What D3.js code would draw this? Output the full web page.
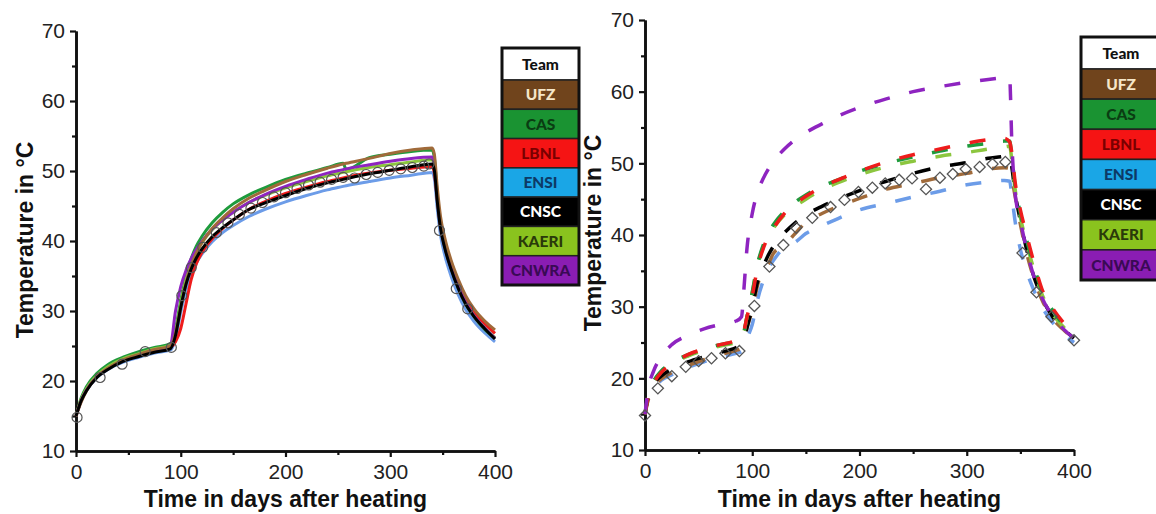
<!DOCTYPE html>
<html>
<head>
<meta charset="utf-8">
<script src="https://cdn.jsdelivr.net/npm/d3@7"></script>
<style>
  body { margin: 0; background: #fff; }
  svg { display: block; }
  .tick text { font-family: "Liberation Sans", Arial, sans-serif; font-size: 21px; fill: #222; }
  .title { font-family: "Liberation Sans", Arial, sans-serif; font-size: 23px; font-weight: bold; fill: #111; }
  .leg { font-family: Lato, "Open Sans", sans-serif; font-size: 15.5px; font-weight: 900; }
</style>
</head>
<body>
<div id="chart"></div>
<script>
// teams and colours
const teams = ["UFZ", "CAS", "LBNL", "ENSI", "CNSC", "KAERI", "CNWRA"];
const lineColors = ["#a06a3a", "#1e9b3c", "#ee1c1c", "#6c9ce8", "#000000", "#8cc63f", "#8e24c0"];
const legendFill = ["#70441c", "#1a9332", "#f51414", "#1aa6e6", "#000000", "#8ac31e", "#8a1db3"];
const legendText = ["#f5e6c8", "#0a3d12", "#7a0000", "#0d3a66", "#ffffff", "#2a3a0a", "#3a0a55"];

const xTicks = [0, 100, 200, 300, 400];
const xMinor = [50, 150, 250, 350];
const yTicks = [10, 20, 30, 40, 50, 60, 70];
const yMinor = [15, 25, 35, 45, 55, 65];

// left panel (solid lines, circles = measured)
const leftDays = [0,5,10,20,30,45,60,75,90,95,100,105,110,115,120,130,140,150,165,180,200,220,240,255,258,280,300,320,340,342,345,348,352,358,365,372,380,390,400];
const leftUFZ   = [15,17.0,18.6,20.6,21.8,23.0,23.8,24.5,25.0,26.8,30.5,34.0,36.5,38.3,39.7,41.8,43.3,44.6,46.1,47.2,48.5,49.5,50.4,51.0,51.1,51.8,52.5,53.0,53.3,52.5,47.5,43.5,40.5,37.3,34.5,32.2,30.3,28.6,27.3];
const leftCAS   = [15,17.6,19.2,21.1,22.3,23.4,24.2,24.8,25.3,27.5,31.5,35.0,37.5,39.3,40.6,42.6,44.1,45.3,46.6,47.6,48.8,49.7,50.5,51.1,50.2,51.9,52.4,52.8,53.0,52.0,46.5,42.3,39.3,36.2,33.3,31.0,29.2,27.4,26.1];
const leftLBNL  = [15,17.3,18.8,20.7,21.8,23.0,23.7,24.3,24.8,25.6,27.5,31.0,34.5,36.8,38.3,40.3,41.8,43.0,44.5,45.6,46.8,47.7,48.5,49.0,49.1,49.7,50.1,50.4,50.6,49.8,45.8,42.3,39.5,36.5,33.8,31.6,29.8,28.2,26.8];
const leftENSI  = [15,17.2,18.6,20.5,21.6,22.7,23.4,24.0,24.4,26.0,29.8,33.0,35.3,36.9,38.1,39.9,41.2,42.2,43.5,44.5,45.6,46.5,47.3,47.8,47.9,48.5,49.0,49.4,49.8,49.0,44.5,40.8,38.0,35.0,32.3,30.2,28.5,26.9,25.6];
const leftCNSC  = [15,17.2,18.6,20.5,21.6,22.8,23.5,24.1,24.6,26.5,30.5,33.8,36.0,37.6,38.8,40.6,41.9,43.0,44.5,45.4,46.5,47.5,48.3,48.8,48.9,49.6,50.1,50.6,51.0,50.2,45.5,41.8,39.0,36.0,33.2,31.0,29.2,27.5,26.0];
const leftKAERI = [15,17.4,18.9,20.8,22.0,23.2,23.9,24.6,25.1,27.0,31.0,34.5,36.8,38.5,39.7,41.6,43.0,44.1,45.5,46.5,47.6,48.5,49.3,49.8,49.9,50.5,50.9,51.3,51.6,50.8,46.0,42.0,39.2,36.2,33.4,31.2,29.3,27.6,26.2];
const leftCNWRA = [15,17.2,18.7,20.6,21.7,22.9,23.6,24.3,25.0,30.0,33.5,35.8,37.5,38.8,39.9,41.7,43.0,44.1,45.5,46.6,47.8,48.8,49.7,50.2,50.3,50.9,51.4,51.8,52.0,51.0,46.0,42.0,39.2,36.2,33.4,31.2,29.3,27.6,26.1];
const leftObsDays = [1,23,44,66,91,101,110,121,134,145,156,167,178,189,200,211,222,233,244,255,266,277,288,299,310,321,332,337,347,363,374];
const leftObsTemp = [14.8,20.5,22.4,24.2,24.8,32.2,36.2,39.1,41.2,42.6,43.8,44.7,45.5,46.3,46.9,47.5,48.0,48.4,48.8,49.1,49.0,49.5,49.8,50.1,50.3,50.5,50.7,51.0,41.5,33.2,30.3];

// right panel (dashed lines, diamonds = measured)
const rightDays = [0,3,8,15,25,40,55,70,85,90,92,95,100,105,110,115,120,130,140,150,165,180,200,225,250,275,300,320,335,340,342,345,350,355,362,370,380,390,400];
const rightUFZ   = [15,17.0,18.8,19.9,20.8,21.8,22.6,23.3,23.9,24.2,25.0,27.0,29.5,33.0,35.3,36.0,37.5,38.6,40.2,41.8,43.0,44.0,45.1,46.4,47.2,48.0,48.6,49.2,49.4,49.3,48.0,45.5,41.5,38.0,34.2,31.0,28.4,26.8,25.5];
const rightCAS   = [15,17.8,19.6,21.0,22.2,23.3,24.1,24.7,25.2,25.5,26.3,28.5,32.0,36.0,38.5,40.3,41.5,43.3,44.6,45.6,46.8,47.7,48.9,50.0,50.9,51.7,52.4,52.8,53.1,53.1,51.0,47.0,43.0,39.8,36.0,32.2,29.5,27.5,26.0];
const rightLBNL  = [15,17.5,19.3,20.8,22.0,23.3,24.1,24.7,25.3,25.7,26.5,28.5,31.5,35.5,38.0,39.8,41.0,43.0,44.3,45.4,46.7,47.7,48.9,50.2,51.2,52.0,52.8,53.3,53.5,53.0,51.5,47.5,43.5,40.5,36.5,32.5,29.8,27.8,26.2];
const rightENSI  = [15,17.2,18.6,19.7,20.5,21.5,22.3,22.9,23.5,23.7,24.2,25.5,27.5,31.0,33.5,35.3,36.5,38.3,39.0,40.2,41.3,42.3,43.5,44.4,45.3,46.1,47.0,47.4,47.6,47.5,45.5,42.0,38.0,35.3,32.5,30.0,27.8,26.2,25.0];
const rightCNSC  = [15,17.5,19.2,20.3,21.3,22.3,23.0,23.6,24.3,24.7,25.5,27.0,30.0,33.5,35.5,37.2,38.5,40.3,41.7,42.8,44.0,45.0,46.2,47.5,48.6,49.5,50.1,50.7,51.0,51.2,49.5,46.0,42.0,38.5,34.5,31.3,28.6,26.9,25.6];
const rightKAERI = [15,17.7,19.5,20.9,22.0,23.1,23.9,24.5,25.0,25.3,26.3,28.5,32.0,35.8,38.2,39.8,41.0,42.8,44.0,45.0,46.3,47.3,48.4,49.5,50.3,51.0,51.5,52.0,52.3,52.4,50.5,46.5,42.5,39.3,35.5,31.8,29.0,27.2,25.8];
const rightCNWRA = [15,18.5,21.0,23.0,24.7,26.0,26.9,27.5,28.0,28.6,32.0,38.0,43.0,46.0,47.8,49.2,50.3,52.0,53.3,54.3,55.5,56.6,57.8,59.0,60.0,60.7,61.3,61.7,61.9,61.9,53.0,46.0,42.0,38.5,34.5,31.3,28.7,26.9,25.6];
const rightObsDays = [0,12,25,38,50,62,75,88,102,116,129,141,156,173,186,199,212,224,237,249,262,275,287,299,312,324,336,352,365,379,400];
const rightObsTemp = [14.8,18.6,20.3,21.6,22.4,22.8,23.5,23.8,30.1,35.6,38.6,41.0,42.4,43.9,44.9,46.0,46.6,47.2,47.7,47.9,46.4,48.0,48.5,49.2,49.5,49.9,50.2,37.5,32.0,28.6,25.3];

const svg = d3.select("#chart").append("svg")
  .attr("width", 1156)
  .attr("height", 514);

function drawPanel(p) {
  const x = d3.scaleLinear().domain([0, 400]).range([p.x0, p.x1]);
  const y = d3.scaleLinear().domain([10, 70]).range([p.y0, p.y1]);
  const g = svg.append("g");

  // minor ticks first, then major axes on top
  g.append("g").attr("transform", `translate(0,${p.y0})`)
    .call(d3.axisBottom(x).tickValues(xMinor).tickSize(4).tickSizeOuter(0).tickFormat(""));
  g.append("g").attr("transform", `translate(${p.x0},0)`)
    .call(d3.axisLeft(y).tickValues(yMinor).tickSize(4).tickSizeOuter(0).tickFormat(""));

  g.append("g").attr("transform", `translate(0,${p.y0})`)
    .call(d3.axisBottom(x).tickValues(xTicks).tickSize(6).tickSizeOuter(0).tickPadding(7));
  g.append("g").attr("transform", `translate(${p.x0},0)`)
    .call(d3.axisLeft(y).tickValues(yTicks).tickSize(6).tickSizeOuter(0).tickPadding(5));

  g.selectAll(".domain").attr("stroke", "#111").attr("stroke-width", 2.6);
  g.selectAll(".tick line").attr("stroke", "#111").attr("stroke-width", 2.2);

  // lines
  const line = d3.line()
    .curve(d3.curveMonotoneX)
    .x((d, i) => x(p.days[i]))
    .y(d => y(d));

  p.order.forEach(k => {
    g.append("path")
      .datum(p.series[k])
      .attr("fill", "none")
      .attr("stroke", lineColors[k])
      .attr("stroke-width", p.dashed ? 3.5 : 3)
      .attr("stroke-dasharray", p.dashed ? "16,20" : null)
      .attr("d", line);
  });

  // measured points
  if (p.dashed) {
    g.selectAll(".obs").data(p.obsDays).enter().append("path")
      .attr("d", d3.symbol().type(d3.symbolSquare).size(62))
      .attr("transform", (d, i) => `translate(${x(d)},${y(p.obsTemp[i])}) rotate(45)`)
      .attr("fill", "none")
      .attr("stroke", "#555")
      .attr("stroke-width", 1.3);
  } else {
    g.selectAll(".obs").data(p.obsDays).enter().append("circle")
      .attr("cx", d => x(d))
      .attr("cy", (d, i) => y(p.obsTemp[i]))
      .attr("r", 5)
      .attr("fill", "none")
      .attr("stroke", "#555")
      .attr("stroke-width", 1.2);
  }

  // axis titles
  g.append("text").attr("class", "title")
    .attr("x", (p.x0 + p.x1) / 2)
    .attr("y", 507)
    .attr("text-anchor", "middle")
    .text("Time in days after heating");

  g.append("text").attr("class", "title")
    .attr("transform", `translate(${p.ytx},${p.yty}) rotate(-90)`)
    .attr("text-anchor", "middle")
    .attr("dy", "0.35em")
    .text("Temperature in °C");

  // legend table
  const leg = g.append("g");
  const rowH = (p.legH - 32) / teams.length;
  const rows = ["Team"].concat(teams);
  rows.forEach((name, i) => {
    const top = i === 0 ? p.legY : p.legY + 32 + (i - 1) * rowH;
    const h = i === 0 ? 32 : rowH;
    leg.append("rect")
      .attr("x", p.legX)
      .attr("y", top)
      .attr("width", p.legW)
      .attr("height", h)
      .attr("fill", i === 0 ? "#ffffff" : legendFill[i - 1])
      .attr("stroke", "#222")
      .attr("stroke-width", 1.5);
    leg.append("text").attr("class", "leg")
      .attr("x", p.legX + p.legW / 2)
      .attr("y", top + h / 2)
      .attr("dy", "0.36em")
      .attr("text-anchor", "middle")
      .attr("fill", i === 0 ? "#111" : legendText[i - 1])
      .text(name);
  });
  leg.append("rect")
    .attr("x", p.legX)
    .attr("y", p.legY)
    .attr("width", p.legW)
    .attr("height", p.legH)
    .attr("fill", "none")
    .attr("stroke", "#111")
    .attr("stroke-width", 3);
}

drawPanel({
  x0: 76, x1: 495, y0: 451, y1: 31,
  days: leftDays,
  series: [leftUFZ, leftCAS, leftLBNL, leftENSI, leftCNSC, leftKAERI, leftCNWRA],
  order: [3, 1, 2, 5, 6, 0, 4],
  obsDays: leftObsDays, obsTemp: leftObsTemp,
  dashed: false,
  ytx: 25, yty: 240,
  legX: 502, legY: 48, legW: 77, legH: 237
});

drawPanel({
  x0: 645, x1: 1074, y0: 450, y1: 20,
  days: rightDays,
  series: [rightUFZ, rightCAS, rightLBNL, rightENSI, rightCNSC, rightKAERI, rightCNWRA],
  order: [3, 0, 4, 5, 1, 2, 6],
  obsDays: rightObsDays, obsTemp: rightObsTemp,
  dashed: true,
  ytx: 593, yty: 233,
  legX: 1081, legY: 37, legW: 80, legH: 243
});
</script>
</body>
</html>
